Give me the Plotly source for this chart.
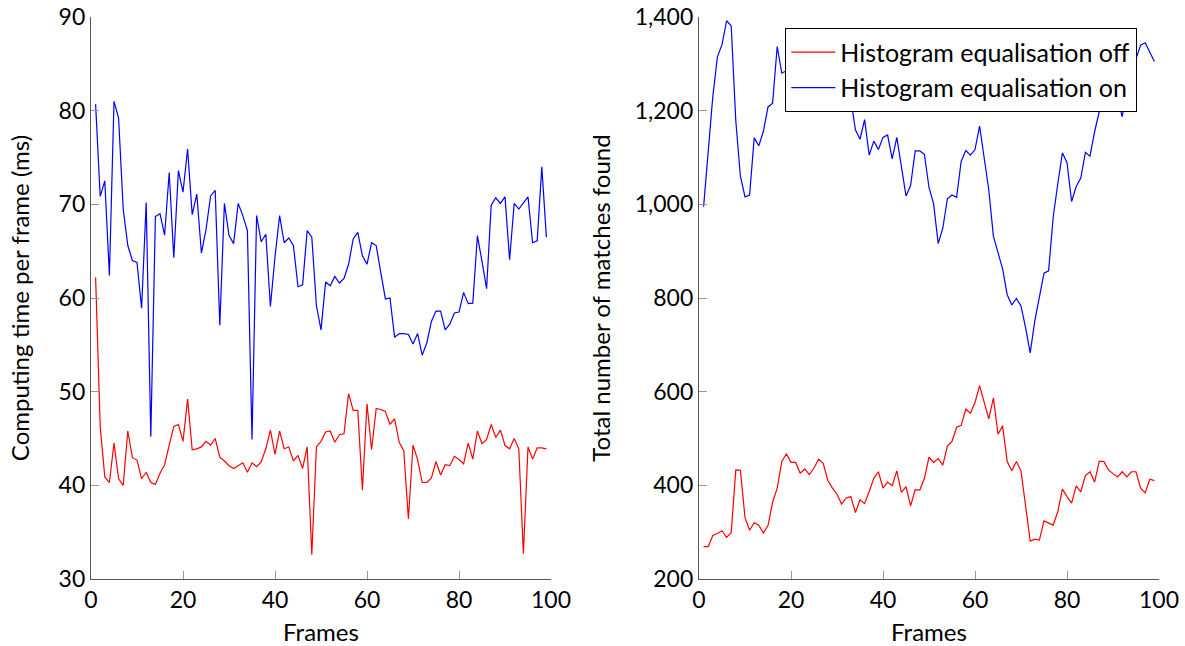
import plotly.graph_objects as go

frames = list(range(1, 100))

time_off = [62.2, 46.3, 40.9, 40.3, 44.5, 40.7, 40.0, 45.8, 42.95, 42.7,
            40.7, 41.4, 40.3, 40.1, 41.3, 42.2, 44.3, 46.3, 46.5, 44.7,
            49.2, 43.8, 43.9, 44.1, 44.7, 44.3, 45.0, 43.0, 42.6, 42.1,
            41.8, 42.1, 42.4, 41.4, 42.4, 42.0, 42.5, 43.9, 45.9, 43.3,
            45.8, 43.9, 44.1, 42.6, 43.2, 41.8, 44.1, 32.6, 44.1, 44.7,
            45.7, 45.8, 44.6, 45.4, 45.5, 49.8, 48.0, 48.0, 39.5, 48.7,
            43.8, 48.2, 48.1, 47.9, 46.5, 47.1, 44.6, 43.7, 36.4, 44.3,
            42.75, 40.3, 40.3, 40.8, 42.55, 41.1, 42.2, 42.1, 43.1, 42.75,
            42.3, 44.5, 42.8, 45.8, 44.45, 44.9, 46.5, 45.1, 45.9, 44.25,
            43.9, 45.0, 43.9, 32.7, 44.1, 42.8, 44.0, 44.0, 43.9]

time_on = [80.7, 70.85, 72.5, 62.4, 81.0, 79.2, 69.5, 65.6, 64.0, 63.8,
           58.9, 70.2, 45.2, 68.7, 69.0, 66.7, 73.4, 64.3, 73.6, 71.3,
           75.9, 68.9, 71.1, 64.8, 67.3, 70.9, 71.5, 57.1, 70.1, 66.7,
           65.8, 70.1, 68.8, 67.2, 44.9, 68.8, 66.0, 66.8, 59.1, 64.4,
           68.8, 65.9, 66.4, 65.6, 61.2, 61.4, 67.2, 66.5, 59.2, 56.6,
           61.7, 61.3, 62.3, 61.6, 62.1, 63.6, 66.3, 67.0, 64.5, 63.6,
           65.9, 65.6, 62.7, 59.9, 60.0, 55.8, 56.2, 56.2, 56.1, 55.1,
           56.2, 53.9, 55.2, 57.5, 58.6, 58.6, 56.6, 57.2, 58.4, 58.5,
           60.6, 59.4, 59.45, 66.65, 63.9, 61.0, 69.9, 70.7, 70.1, 70.8,
           64.1, 70.1, 69.5, 70.1, 70.8, 65.9, 66.1, 74.0, 66.5]

matches_off = [269, 269, 293, 297, 303, 289, 299, 433, 432, 331,
               304, 320, 315, 298, 314, 364, 394, 451, 467, 449,
               449, 426, 435, 423, 437, 456, 447, 411, 394, 381,
               360, 373, 376, 342, 369, 361, 387, 415, 429, 394,
               407, 399, 431, 385, 397, 356, 391, 390, 415, 460,
               449, 457, 443, 484, 494, 524, 528, 563, 554, 577,
               613, 577, 542, 587, 509, 527, 451, 431, 451, 431,
               356, 281, 285, 283, 324, 319, 315, 344, 392, 376,
               362, 399, 386, 421, 429, 407, 451, 451, 433, 425,
               418, 429, 418, 429, 429, 394, 384, 413, 410]

matches_on = [995, 1115, 1230, 1315, 1341, 1392, 1381, 1178, 1060, 1016,
              1020, 1142, 1125, 1156, 1208, 1216, 1337, 1280, 1285, 1300,
              1320, 1290, 1310, 1330, 1300, 1280, 1300, 1290, 1270, 1280,
              1260, 1250, 1225, 1159, 1139, 1181, 1105, 1135, 1117, 1143,
              1148, 1097, 1143, 1084, 1018, 1040, 1114, 1114, 1107, 1036,
              1001, 916, 949, 1012, 1020, 1015, 1092, 1115, 1105, 1117,
              1167, 1099, 1030, 932, 898, 862, 807, 785, 799, 783,
              736, 683, 751, 803, 853, 858, 973, 1044, 1110, 1089,
              1006, 1038, 1056, 1111, 1103, 1155, 1196, 1240, 1270, 1290,
              1230, 1187, 1240, 1280, 1310, 1340, 1345, 1325, 1305]

names = ["Histogram equalisation off", "Histogram equalisation on"]
colors = ["#ff0000", "#0000ff"]

FONT = "Lato"
W, H = 1185, 646
TICK_SIZE = 23
TEXT_SIZE = 24

fig = go.Figure()
fig.add_trace(go.Scatter(x=frames, y=time_off, mode="lines", line=dict(color=colors[0], width=1.2),
                         showlegend=False, xaxis="x", yaxis="y"))
fig.add_trace(go.Scatter(x=frames, y=time_on, mode="lines", line=dict(color=colors[1], width=1.2),
                         showlegend=False, xaxis="x", yaxis="y"))
fig.add_trace(go.Scatter(x=frames, y=matches_off, mode="lines", name=names[0],
                         line=dict(color=colors[0], width=1.2), xaxis="x2", yaxis="y2"))
fig.add_trace(go.Scatter(x=frames, y=matches_on, mode="lines", name=names[1],
                         line=dict(color=colors[1], width=1.2), xaxis="x2", yaxis="y2"))

axis_common = dict(showgrid=False, zeroline=False, showline=True, linecolor="#555555", linewidth=1.3,
                   ticks="inside", ticklen=8, tickcolor="#999999", tickwidth=1, automargin=False,
                   tickfont=dict(family=FONT, size=TICK_SIZE, color="black"), mirror=False)

fig.update_layout(
    template="none",
    width=W, height=H,
    margin=dict(l=0, r=0, t=17, b=67, pad=0),
    paper_bgcolor="white", plot_bgcolor="white",
    font=dict(family=FONT, size=TEXT_SIZE, color="black"),
    xaxis=dict(domain=[91 / W, 551 / W], range=[0, 100], tickvals=[0, 20, 40, 60, 80, 100],
               title=dict(text="Frames", font=dict(family=FONT, size=TEXT_SIZE), standoff=14),
               anchor="y", **axis_common),
    yaxis=dict(range=[30, 90], tickvals=[30, 40, 50, 60, 70, 80, 90],
               title=dict(text="Computing time per frame (ms)", font=dict(family=FONT, size=TEXT_SIZE), standoff=22),
               anchor="x", **axis_common),
    xaxis2=dict(domain=[699 / W, 1159 / W], range=[0, 100], tickvals=[0, 20, 40, 60, 80, 100],
                title=dict(text="Frames", font=dict(family=FONT, size=TEXT_SIZE), standoff=14),
                anchor="y2", **axis_common),
    yaxis2=dict(range=[200, 1400], tickvals=[200, 400, 600, 800, 1000, 1200, 1400], tickformat=",",
                title=dict(text="Total number of matches found", font=dict(family=FONT, size=TEXT_SIZE), standoff=17),
                anchor="x2", **axis_common),
    legend=dict(x=785 / W, y=1 - (28 - 17) / 562, xanchor="left", yanchor="top",
                bgcolor="white", bordercolor="black", borderwidth=1.3, itemwidth=44,
                font=dict(family=FONT, size=25, color="black"), tracegroupgap=0),
)

fig.write_html("out.html")
